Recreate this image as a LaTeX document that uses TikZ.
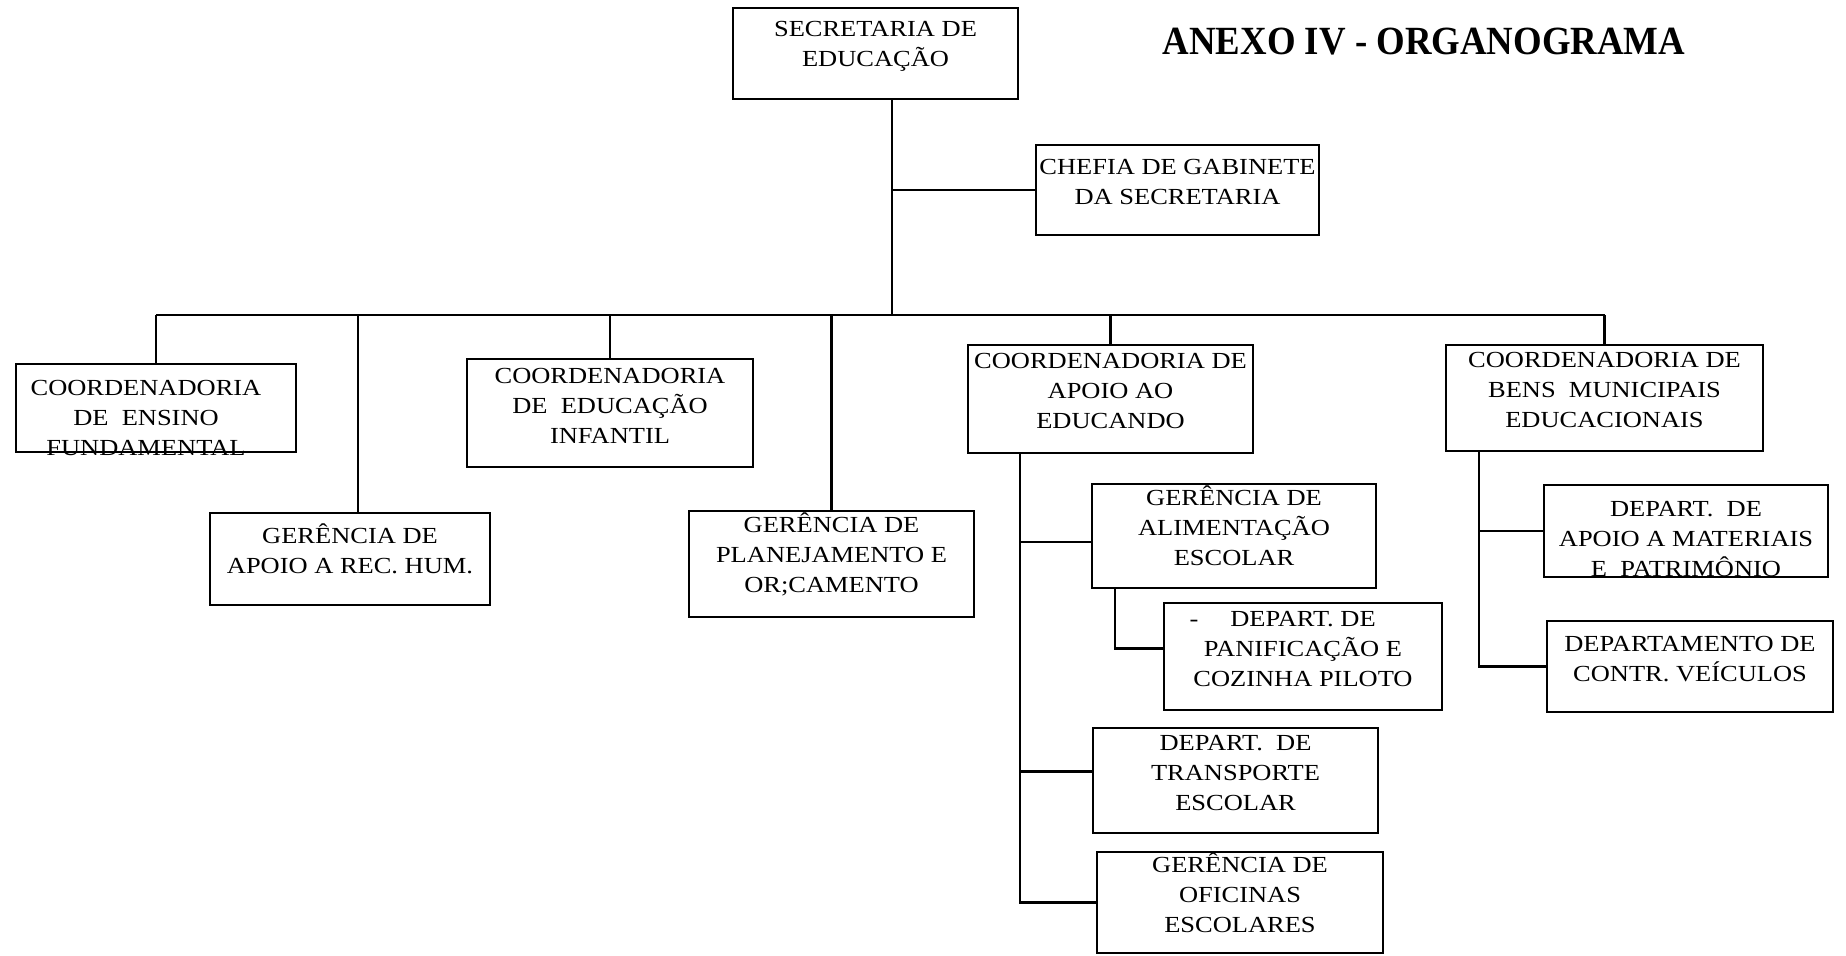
\documentclass[tikz,border=0pt]{standalone}
\usepackage{fontspec}
\setmainfont{Liberation Serif}[FakeStretch=1.15]
\newfontfamily\titlefont{Liberation Serif}[FakeStretch=0.92]
\usetikzlibrary{fit,calc}
\begin{document}
\begin{tikzpicture}[x=0.5pt,y=-0.5pt,
  boxtxt/.style={align=center, font=\fontsize{11.5}{15}\selectfont},
  unit/.style={boxtxt, draw, line width=1.1pt, inner sep=0pt},
  link/.style={line width=1.1pt}]
\useasboundingbox[fill=white] (0,0) rectangle (1846,955);

% title
\node[font=\titlefont\bfseries\fontsize{20}{24}\selectfont, anchor=base] (title) at (1424,54) {ANEXO IV - ORGANOGRAMA};

% top level
\node[unit, fit={(733,8)(1018,99)}] (sec) {SECRETARIA DE\\EDUCAÇÃO};
\node[unit, fit={(1036,145)(1319,235)}] (chefia) {CHEFIA DE GABINETE\\DA SECRETARIA};

% second level
\node[unit, fit={(16,364)(296,452)}] (ens) {};
\node[boxtxt] (enstxt) at ([xshift=-5pt,yshift=-5pt]ens.center) {COORDENADORIA\\DE\ \ ENSINO\\FUNDAMENTAL};
\node[unit, fit={(210,513)(490,605)}] (rh) {GERÊNCIA DE\\APOIO A REC. HUM.};
\node[unit, fit={(467,359)(753,467)}] (inf) {COORDENADORIA\\DE\ \ EDUCAÇÃO\\INFANTIL};
\node[unit, fit={(689,511)(974,617)}] (plan) {GERÊNCIA DE\\PLANEJAMENTO E\\OR;CAMENTO};
\node[unit, fit={(968,345)(1253,453)}] (apoio) {COORDENADORIA DE\\APOIO AO\\EDUCANDO};
\node[unit, fit={(1446,345)(1763,451)}] (bens) {COORDENADORIA DE\\BENS\ \ MUNICIPAIS\\EDUCACIONAIS};

% under apoio ao educando
\node[unit, fit={(1092,484)(1376,588)}] (alim) {GERÊNCIA DE\\ALIMENTAÇÃO\\ESCOLAR};
\node[unit, fit={(1164,603)(1442,710)}] (panif) {\llap{-\hspace{16pt}}DEPART. DE\\PANIFICAÇÃO E\\COZINHA PILOTO};
\node[unit, fit={(1093,728)(1378,833)}] (transp) {DEPART.\ \ DE\\TRANSPORTE\\ESCOLAR};
\node[unit, fit={(1097,852)(1383,953)}] (ofic) {GERÊNCIA DE\\OFICINAS\\ESCOLARES};

% under bens municipais
\node[unit, fit={(1544,485)(1828,577)}] (mat) {};
\node[boxtxt] (mattxt) at ([yshift=-4pt]mat.center) {DEPART.\ \ DE\\APOIO A MATERIAIS\\E\ \ PATRIMÔNIO};
\node[unit, fit={(1547,621)(1833,712)}] (veic) {DEPARTAMENTO DE\\CONTR. VEÍCULOS};

% junction points
\coordinate (bus) at (0,315);
\coordinate (tr) at ([xshift=80pt]sec.south west);
\coordinate (drh) at ([xshift=74.5pt]rh.north west);
\coordinate (asp) at ([xshift=26.5pt]apoio.south west);
\coordinate (bsp) at ([xshift=17pt]bens.south west);
\coordinate (asub) at ([xshift=12pt]alim.south west);
\coordinate (alimin) at ([yshift=-3pt]alim.west);
\coordinate (panin) at ([yshift=4pt]panif.west);
\coordinate (transpin) at ([yshift=4.5pt]transp.west);

% connectors
\draw[link] (tr) -- (tr |- bus);
\draw[link] (tr |- chefia.west) -- (chefia.west);
\draw[link] (ens.north |- bus) -- (bens.north |- bus);
\draw[link] (ens.north |- bus) -- (ens.north);
\draw[link] (drh |- bus) -- (drh);
\draw[link] (inf.north |- bus) -- (inf.north);
\draw[link] (plan.north |- bus) -- (plan.north);
\draw[link] (apoio.north |- bus) -- (apoio.north);
\draw[link] (bens.north |- bus) -- (bens.north);

\draw[link] (asp) |- (ofic.west);
\draw[link] (asp |- alimin) -- (alimin);
\draw[link] (asp |- transpin) -- (transpin);
\draw[link] (asub) |- (panin);

\draw[link] (bsp) |- (veic.west);
\draw[link] (bsp |- mat.west) -- (mat.west);
\end{tikzpicture}
\end{document}
